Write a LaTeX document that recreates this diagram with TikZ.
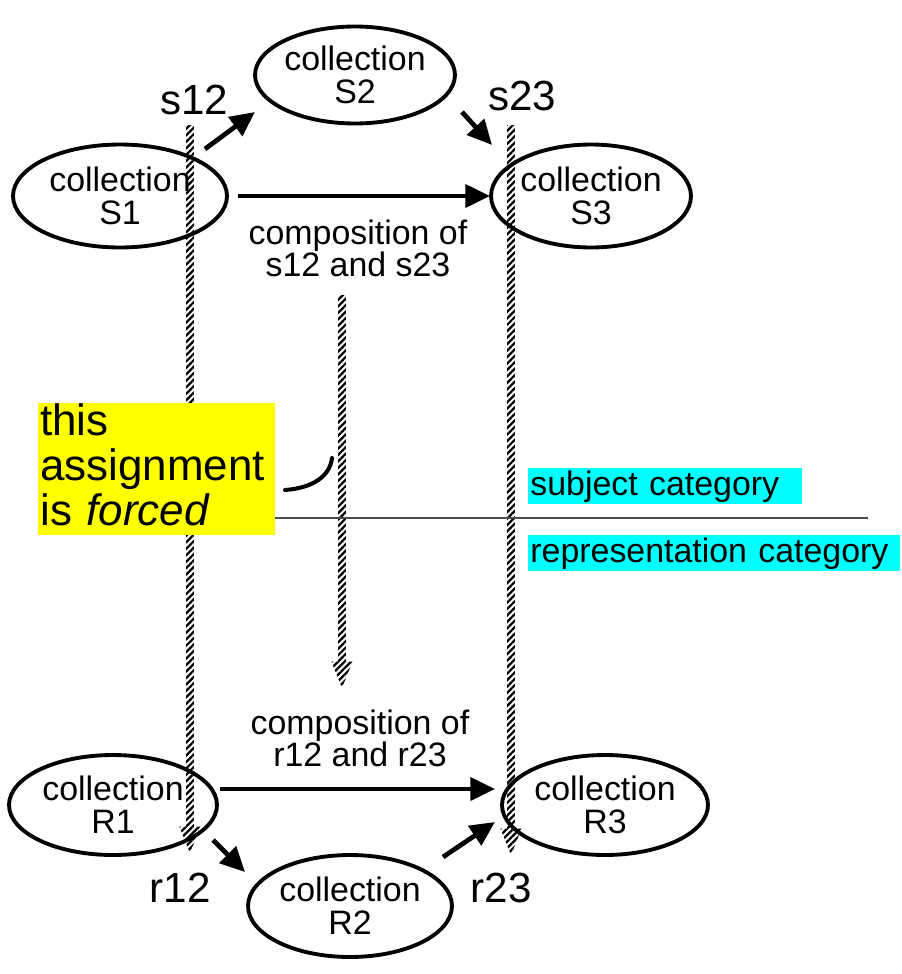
\documentclass[tikz,border=0pt]{standalone}
\usepackage{fontspec}
\setmainfont{Liberation Sans}
\usetikzlibrary{shapes.geometric,arrows.meta,calc,patterns.meta}
\definecolor{catcyan}{RGB}{0,255,255}
\definecolor{noteyellow}{RGB}{255,255,0}

% hatched functor arrow between two vertically aligned points
\newcommand\hatcharrow[2]{%
  \path[hatch] let \p1=(#1), \p2=(#2) in
    (\x1-2.2pt,\y1) -- (\x1+2.2pt,\y1) -- (\x1+2.2pt,\y2+15pt) -- (\x1+6pt,\y2+15pt)
    -- (\x1,\y2) -- (\x1-6pt,\y2+15pt) -- (\x1-2.2pt,\y2+15pt) -- cycle;}

\begin{document}
\begin{tikzpicture}[x=0.02cm,y=-0.02cm,
  coll/.style={ellipse,draw,line width=2.2pt,align=center,inner sep=0pt,
    font=\fontsize{19.3}{18.7}\selectfont},
  maplabel/.style={inner sep=0pt,font=\fontsize{24}{24}\selectfont},
  complabel/.style={inner sep=0pt,align=center,font=\fontsize{19.3}{18.3}\selectfont},
  bigarrow/.style={line width=2.7pt,-{Triangle[length=14pt,width=13pt]}},
  hatch/.style={pattern={Lines[angle=45,distance=2.6pt,line width=1.3pt]},pattern color=black},
  catbox/.style={anchor=north west,fill=catcyan,inner xsep=0.04cm,inner ysep=0.5pt,
    text height=14.8pt,text depth=4.5pt,align=left,font=\fontsize{19.3}{19.3}\selectfont},
]
\useasboundingbox (0,0) rectangle (902,974);

% collections
\node[coll,minimum width=4.28cm,minimum height=2.06cm] (S1) at (120,196) {collection\\S1};
\node[coll,minimum width=3.88cm,minimum height=1.94cm] (S2) at (355,75) {collection\\S2};
\node[coll,minimum width=3.86cm,minimum height=2.06cm] (S3) at (591,196) {collection\\S3};
\node[coll,minimum width=4.16cm,minimum height=2.0cm] (R1) at (113,805) {collection\\R1};
\node[coll,minimum width=4.08cm,minimum height=2.04cm] (R2) at (350,906) {collection\\R2};
\node[coll,minimum width=4.12cm,minimum height=2.0cm] (R3) at (605,805) {collection\\R3};

% morphism labels
\node[maplabel] (s12) at (194,100) {s12};
\node[maplabel] (s23) at (522,96) {s23};
\node[maplabel] (r12) at (180,888) {r12};
\node[maplabel] (r23) at (501,888) {r23};
\node[complabel] (cs) at (358,248) {composition of\\s12 and s23};
\node[complabel] (cr) at (360,738) {composition of\\r12 and r23};

% morphisms
\draw[bigarrow] ($(S1)+(85,-47)$) -- ($(S2)+(-100,37)$);
\draw[bigarrow] ($(S2)+(107,37)$) -- ($(S3)+(-99,-51)$);
\draw[bigarrow,line width=2.4pt] ($(S1)+(118,0)$) -- ($(S3)+(-101,0)$);
\draw[bigarrow,line width=2.4pt] ($(R1)+(107,-16)$) -- ($(R3)+(-110,-16)$);
\draw[bigarrow] ($(R1)+(100,35)$) -- ($(R2)+(-105,-34)$);
\draw[bigarrow] ($(R2)+(93,-49)$) -- ($(R3)+(-110,17)$);

% functor assignments
\coordinate (h1a) at (190,125);
\coordinate (h1b) at (190,853);
\coordinate (h2a) at (342,295);
\coordinate (h2b) at (342,688);
\coordinate (h3a) at (511,125);
\coordinate (h3b) at (511,855);
\hatcharrow{h1a}{h1b}
\hatcharrow{h2a}{h2b}
\hatcharrow{h3a}{h3b}

% category separator
\coordinate (sepL) at (38,518);
\coordinate (sepR) at (868,518);
\draw[line width=1.1pt,black!70] (sepL) -- (sepR);

% note
\node[anchor=north west,fill=noteyellow,inner xsep=0.04cm,inner ysep=2.4pt,
  text width=4.66cm,text height=16pt,text depth=54pt,align=left,
  font=\fontsize{25}{25.5}\selectfont] (note) at (38,403)
  {this\\assignment\\is \textit{forced}};
\coordinate (hk1) at (285,490);
\coordinate (hk2) at (332,458);
\draw[line width=2.3pt,line cap=round] (hk1) .. controls (313,488) and (330,476) .. (hk2);

% category labels
\node[catbox,text width=5.4cm] (subj) at (528,468) {subject category};
\node[catbox,text width=7.36cm] (repr) at (528,535) {representation category};
\end{tikzpicture}
\end{document}
